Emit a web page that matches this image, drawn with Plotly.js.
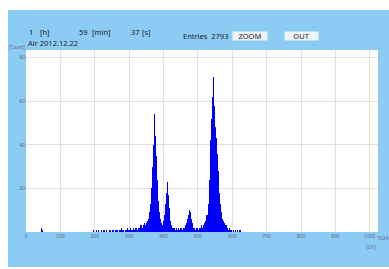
<!DOCTYPE html>
<html>
<head>
<meta charset="utf-8">
<script src="https://cdn.plot.ly/plotly-3.0.1.min.js"></script>
<style>
html,body{margin:0;padding:0;background:#fff;width:389px;height:269px;overflow:hidden;}
#chart{position:absolute;left:8px;top:10px;width:381px;height:257px;}
</style>
</head>
<body>
<div id="chart"></div>
<script>
// Histogram data: counts per 3-channel bin, first bin starts at channel 195
const binStart = 195;
const binWidth = 3;
const binCounts = [
  1,0,0,1,0,1,0,0,1,0,1,1,0,1,0,1,1,0,1,1,0,1,1,1,0,1,1,2,1,1,0,1,1,2,1,1,2,1,1,2,1,2,2,1,
  2,2,3,2,3,4,3,4,5,
  6,9,13,20,30,40,54,44,35,24,14,9,6,4,3,
  5,8,13,18,23,17,11,5,3,
  2,2,1,2,1,2,1,2,2,1,2,2,3,
  4,6,8,10,9,6,4,2,
  2,1,2,2,1,2,2,3,2,3,
  4,5,8,13,24,42,52,62,71,58,48,43,36,28,18,13,9,6,5,4,3,
  3,2,1,2,1,1,0,1,0,1,0,1,0,1
];
// isolated low-channel counts
const lowChannels = [45, 48];
const lowCounts = [2, 1];

const xTicks = [0,100,200,300,400,500,600,700,800,900,1000];
const yTicks = [20,40,60,80];
const headerTexts = ["1", "[h]", "59", "[min]", "37", "[s]"];
const sampleLabel = "Air 2012.12.22";
const entriesLabel = "Entries  2793";

const binX = binCounts.map((_, i) => binStart + i * binWidth + binWidth / 2);

const traces = [
  {type:'bar', x: binX, y: binCounts, width: binWidth,
   marker:{color:'#0000ff', line:{width:0}}, hoverinfo:'skip'},
  {type:'bar', x: lowChannels, y: lowCounts, width: 2,
   marker:{color:'#0000ff', line:{width:0}}, hoverinfo:'skip'}
];

// plot area in page pixels (for placing header texts)
const PL = 26, PR = 378, PT = 50, PB = 232;
const px = x => (x - PL) / (PR - PL);
const py = y => (PB - y) / (PB - PT);

const hFont = {family:'Noto Sans, DejaVu Sans, sans-serif', size:7.5, color:'#1a1a2a'};
const tFont = {family:'Noto Sans, DejaVu Sans, sans-serif', size:5, color:'#667'};

function ann(text, x, y, xanchor, font, extra) {
  return Object.assign({text, x: px(x), y: py(y), xref:'paper', yref:'paper',
    xanchor: xanchor, yanchor:'middle', showarrow:false, font: font}, extra || {});
}

const annotations = [
  ann(headerTexts[0], 27, 32, 'left', hFont),
  ann(headerTexts[1], 38, 32, 'left', hFont),
  ann(headerTexts[2], 77, 32, 'left', hFont),
  ann(headerTexts[3], 90, 32, 'left', hFont),
  ann(headerTexts[4], 129, 32, 'left', hFont),
  ann(headerTexts[5], 140, 32, 'left', hFont),
  ann(sampleLabel, 26, 43, 'left', hFont),
  ann(entriesLabel, 181, 36, 'left', hFont),
  ann('ZOOM', 250, 36, 'center', hFont, {bgcolor:'#eef3f8', width:34, height:8, borderpad:0}),
  ann('OUT', 301.5, 36, 'center', hFont, {bgcolor:'#eef3f8', width:33, height:8, borderpad:0}),
  ann('[Count]', 7, 47, 'left', {family:tFont.family, size:4.5, color:'#667'}),
  ann('1024', 383, 238, 'center', tFont),
  ann('[Ch]', 371, 247, 'center', tFont)
];

const layout = {
  width: 381, height: 257,
  margin: {l: 18, r: 11, t: 40, b: 35, pad: 0},
  paper_bgcolor: '#8ccbf4',
  plot_bgcolor: '#ffffff',
  showlegend: false,
  bargap: 0,
  barmode: 'overlay',
  xaxis: {range:[0,1024], tickvals: xTicks, ticks:'', showline:false,
    zeroline:false, showgrid:true, gridcolor:'#e4dede', gridwidth:1,
    tickfont: tFont, ticklen:0, fixedrange:true},
  yaxis: {range:[0,83.5], tickvals: yTicks, ticks:'', showline:false,
    zeroline:false, showgrid:true, gridcolor:'#e4dede', gridwidth:1,
    tickfont: tFont, fixedrange:true},
  annotations: annotations
};

Plotly.newPlot('chart', traces, layout, {displayModeBar:false, staticPlot:true});
</script>
</body>
</html>
